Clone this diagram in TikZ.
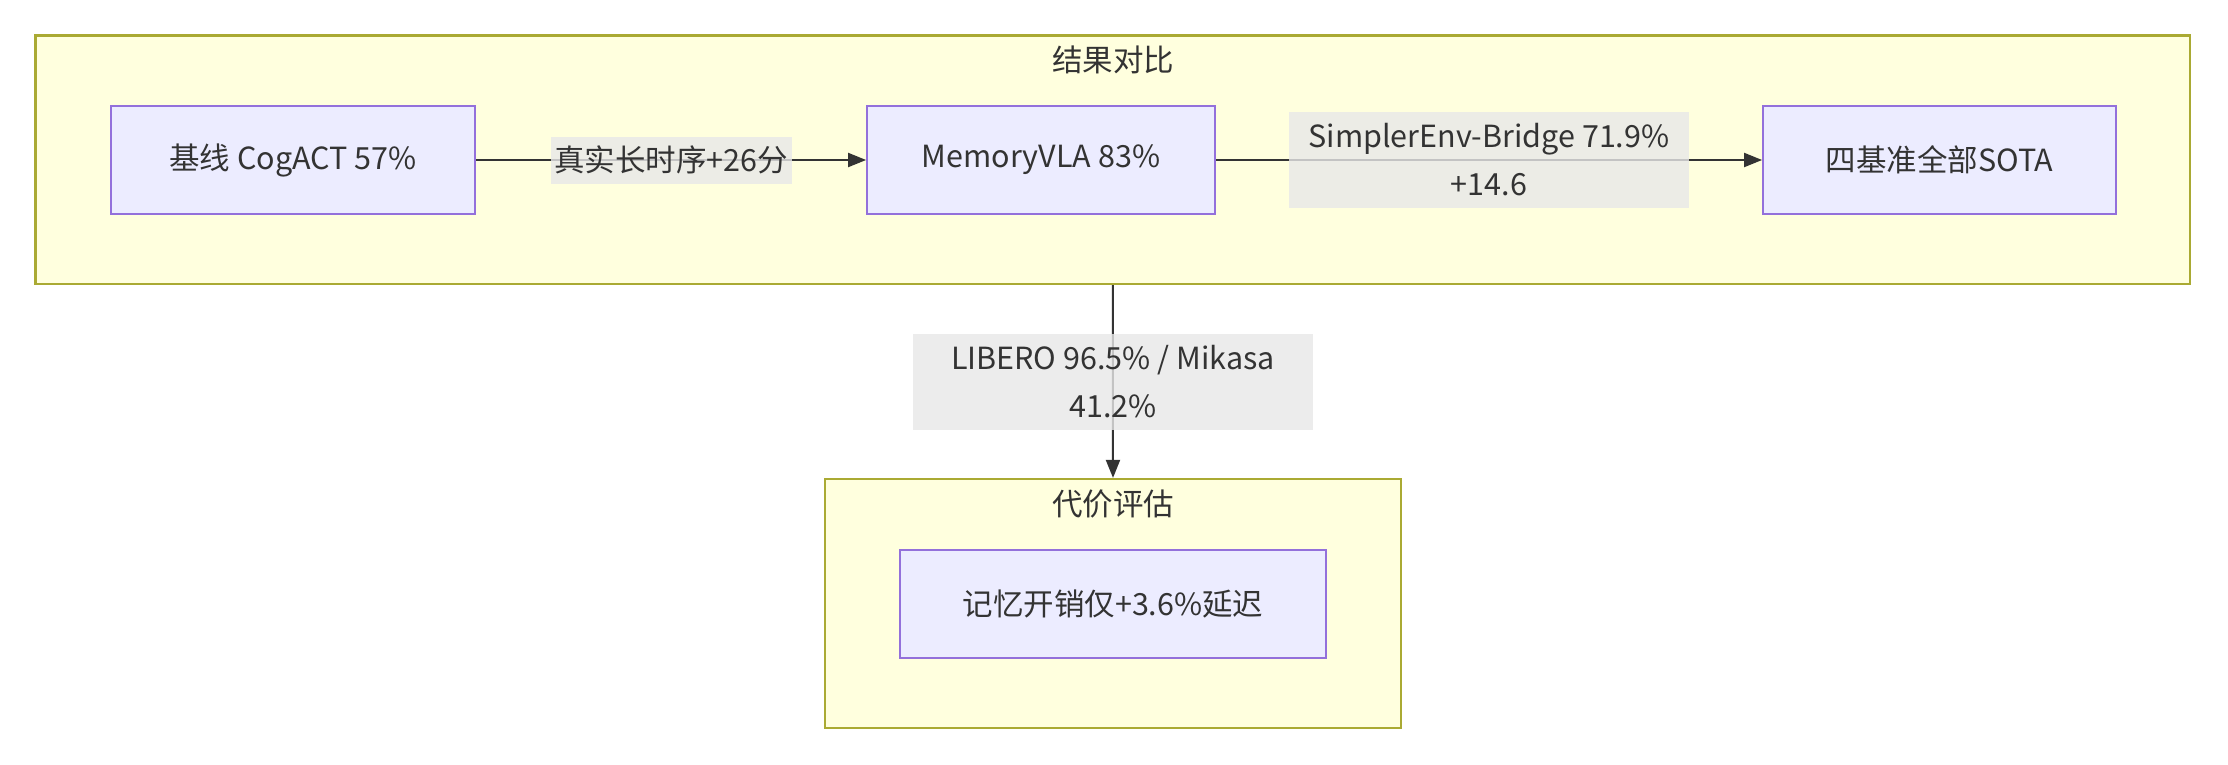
\documentclass[tikz,border=0pt]{standalone}
\usepackage{fontspec}
\setmainfont{Noto Sans CJK SC}
\usetikzlibrary{arrows.meta}
\definecolor{grpfill}{HTML}{FFFFDE}
\definecolor{grpline}{HTML}{AAAA33}
\definecolor{nodefill}{HTML}{ECECFF}
\definecolor{nodeline}{HTML}{9370DB}
\definecolor{txt}{HTML}{333333}
\definecolor{lblfill}{HTML}{E8E8E8}
\tikzset{
  every node/.style={text=txt, font=\fontsize{30.5}{48}\selectfont},
  grp/.style={draw=grpline, fill=grpfill, line width=2.2pt, inner sep=0pt},
  box/.style={draw=nodeline, fill=nodefill, line width=1.8pt, inner sep=0pt, minimum height=108pt},
  lbl/.style={fill=lblfill, fill opacity=0.8, text opacity=1, inner sep=0pt, align=center},
  edge/.style={draw=txt, line width=2pt, -{Triangle[length=18pt,width=14pt]}},
}
\begin{document}
\begin{tikzpicture}[x=1pt,y=-1pt]
\useasboundingbox (0,0) rectangle (2228,764);
\fill[white] (0,0) rectangle (2228,764);
% groups
\node[grp, minimum width=2154.5pt, minimum height=248.5pt] (g1) at (1112.75,159.75) {};
\node[grp, minimum width=576pt, minimum height=249pt] (g2) at (1113,603.5) {};
\node (g1title) at (1113,60) {结果对比};
\node (g2title) at (1113,504) {代价评估};
% nodes
\node[box, minimum width=364pt] (n1) at (293,160) {基线 CogACT 57\%};
\node[box, minimum width=348pt] (n2) at (1041,160) {MemoryVLA 83\%};
\node[box, minimum width=353pt] (n3) at (1939.5,160) {四基准全部SOTA};
\node[box, minimum width=426pt] (n4) at (1113,604) {记忆开销仅+3.6\%延迟};
% edges
\draw[edge] (n1) -- node[lbl, minimum width=241pt, minimum height=47pt] (l1) {真实长时序+26分} (n2);
\draw[edge] (n2) -- node[lbl, minimum width=400pt, minimum height=96pt] (l2) {SimplerEnv-Bridge 71.9\%\\+14.6} (n3);
\draw[edge] (g1.south) -- node[lbl, minimum width=400pt, minimum height=96pt] (l3) {LIBERO 96.5\% / Mikasa\\41.2\%} (g2.north);
\end{tikzpicture}
\end{document}
